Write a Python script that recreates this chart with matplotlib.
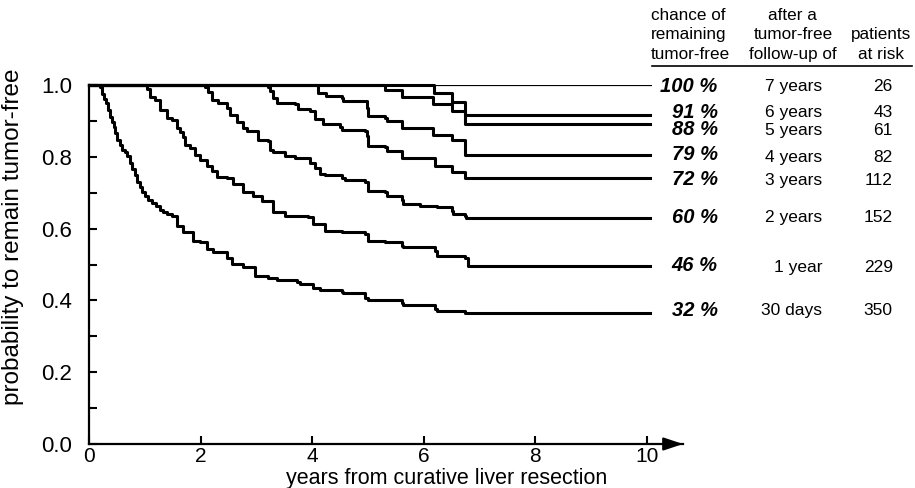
import matplotlib.pyplot as plt
import numpy as np

plt.rcParams['font.family'] = ['Liberation Sans', 'DejaVu Sans']

t_end = 10.05

# drop times (years) and survival after each drop
t_30d = [0.20, 0.23, 0.27, 0.30, 0.34, 0.38, 0.41, 0.44, 0.47, 0.51, 0.56, 0.60, 0.65, 0.69,
         0.73, 0.77, 0.82, 0.86, 0.91, 0.95, 1.00, 1.06, 1.13, 1.20, 1.27, 1.33, 1.40, 1.49,
         1.58, 1.68, 1.86, 1.99, 2.11, 2.22, 2.47, 2.56, 2.76, 2.97, 3.21, 3.37, 3.73, 3.78,
         4.01, 4.14, 4.53, 4.55, 4.95, 5.00, 5.61, 5.63, 6.20, 6.24, 6.74, 6.79]
s_30d = [0.994, 0.975, 0.962, 0.950, 0.930, 0.911, 0.897, 0.884, 0.866, 0.848, 0.834, 0.820,
         0.812, 0.801, 0.784, 0.765, 0.748, 0.729, 0.716, 0.701, 0.690, 0.681, 0.672, 0.662,
         0.652, 0.645, 0.640, 0.634, 0.607, 0.590, 0.565, 0.562, 0.543, 0.535, 0.518, 0.501,
         0.493, 0.468, 0.463, 0.457, 0.452, 0.446, 0.435, 0.429, 0.424, 0.421, 0.407, 0.402,
         0.393, 0.388, 0.377, 0.371, 0.366, 0.366]

t_1y = [1.04, 1.09, 1.18, 1.27, 1.40, 1.49, 1.58, 1.63, 1.68, 1.72, 1.81, 1.90, 1.99, 2.11,
        2.20, 2.29, 2.47, 2.58, 2.76, 2.94, 3.10, 3.30, 3.51, 3.92, 4.01, 4.23, 4.53, 4.95,
        5.00, 5.30, 5.61, 5.63, 6.20, 6.24, 6.74, 6.79]
s_1y = [0.990, 0.967, 0.958, 0.931, 0.909, 0.903, 0.881, 0.870, 0.855, 0.834, 0.825, 0.806,
        0.792, 0.773, 0.760, 0.745, 0.742, 0.723, 0.701, 0.690, 0.676, 0.645, 0.634, 0.632,
        0.612, 0.593, 0.590, 0.584, 0.565, 0.562, 0.551, 0.548, 0.537, 0.524, 0.518, 0.496]

t_2y = [2.08, 2.13, 2.20, 2.31, 2.47, 2.53, 2.65, 2.76, 2.83, 3.03, 3.21, 3.24, 3.30, 3.51,
        3.69, 3.96, 4.05, 4.14, 4.23, 4.53, 4.59, 4.95, 5.00, 5.30, 5.34, 5.61, 5.63, 5.93,
        6.24, 6.51, 6.52, 6.74, 6.76]
s_2y = [0.994, 0.981, 0.958, 0.950, 0.936, 0.917, 0.898, 0.881, 0.873, 0.848, 0.845, 0.820,
        0.812, 0.803, 0.798, 0.784, 0.770, 0.751, 0.748, 0.742, 0.734, 0.729, 0.704, 0.701,
        0.690, 0.681, 0.668, 0.662, 0.659, 0.648, 0.640, 0.634, 0.629]

t_3y = [3.21, 3.24, 3.30, 3.37, 3.69, 3.75, 3.96, 4.05, 4.19, 4.50, 4.53, 4.95, 4.98, 5.00,
        5.30, 5.34, 5.61, 6.20, 6.51, 6.74]
s_3y = [0.994, 0.983, 0.964, 0.950, 0.947, 0.932, 0.927, 0.904, 0.890, 0.883, 0.876, 0.873,
        0.859, 0.831, 0.826, 0.817, 0.798, 0.773, 0.759, 0.740]

t_4y = [4.11, 4.25, 4.53, 4.55, 4.98, 5.00, 5.30, 5.34, 5.61, 6.16, 6.51, 6.74]
s_4y = [0.978, 0.969, 0.964, 0.956, 0.936, 0.914, 0.909, 0.900, 0.879, 0.861, 0.848, 0.804]

t_5y = [5.30, 5.61, 6.16, 6.51, 6.74]
s_5y = [0.987, 0.966, 0.947, 0.928, 0.890]

t_6y = [6.18, 6.51, 6.74]
s_6y = [0.978, 0.953, 0.917]

curves = [(t_30d, s_30d), (t_1y, s_1y), (t_2y, s_2y), (t_3y, s_3y),
          (t_4y, s_4y), (t_5y, s_5y), (t_6y, s_6y)]

# table at the right
pct_labels = ['100 %', '91 %', '88 %', '79 %', '72 %', '60 %', '46 %', '32 %']
pct_y = [0.997, 0.923, 0.875, 0.806, 0.737, 0.632, 0.496, 0.371]
after_labels = ['7 years', '6 years', '5 years', '4 years', '3 years', '2 years', '1 year', '30 days']
risk_labels = ['26', '43', '61', '82', '112', '152', '229', '350']
row_y = [0.997, 0.923, 0.873, 0.798, 0.734, 0.632, 0.493, 0.371]

fig = plt.figure(figsize=(9.15, 4.88), dpi=100)
ax = fig.add_axes([89/915, 44/488, 594/915, 359/488])

# tumor-free after 7 years: flat line
ax.plot([0, 10.1], [1.0, 1.0], color='black', lw=1.6, solid_capstyle='butt')
for t, s in curves:
    tt = np.r_[0, t, t_end]
    ss = np.r_[1.0, s, s[-1]]
    ax.step(tt, ss, where='post', color='black', lw=2.2, clip_on=False)

ax.set_xlim(0, 10.65)
ax.set_ylim(0, 1.0)
ax.spines['top'].set_visible(False)
ax.spines['right'].set_visible(False)
ax.spines['left'].set_linewidth(1.6)
ax.spines['bottom'].set_linewidth(1.6)
ax.spines['left'].set_bounds(0, 1.0)

ax.annotate('', xy=(10.7, 0), xytext=(10.4, 0), xycoords='data',
            arrowprops=dict(arrowstyle='-|>,head_length=0.9,head_width=0.3',
                            color='black', lw=1.6, mutation_scale=13),
            annotation_clip=False)

ax.set_xticks([0, 2, 4, 6, 8, 10])
ax.set_yticks([0.0, 0.2, 0.4, 0.6, 0.8, 1.0])
ax.set_yticklabels(['0.0', '0.2', '0.4', '0.6', '0.8', '1.0'])
ax.set_yticks(np.arange(0.1, 1.0, 0.2), minor=True)
ax.tick_params(axis='both', which='both', direction='in', length=6, width=1.5,
               labelsize=16)
ax.tick_params(axis='x', labelsize=15, pad=2)
ax.tick_params(axis='y', pad=12)

fig.text(447/915, 4/488, 'years from curative liver resection', fontsize=15.5,
         ha='center', va='baseline')
ax.set_ylabel('probability to remain tumor-free', fontsize=17.5)
ax.yaxis.set_label_coords(-0.11, 0.576)

# header
hdr = 12.3
ax.text(10.07, 1.194, 'chance of', fontsize=hdr, ha='left', va='center', clip_on=False)
ax.text(10.07, 1.141, 'remaining', fontsize=hdr, ha='left', va='center', clip_on=False)
ax.text(10.07, 1.086, 'tumor-free', fontsize=hdr, ha='left', va='center', clip_on=False)
ax.text(12.62, 1.194, 'after a', fontsize=hdr, ha='center', va='center', clip_on=False)
ax.text(12.62, 1.141, 'tumor-free', fontsize=hdr, ha='center', va='center', clip_on=False)
ax.text(12.62, 1.086, 'follow-up of', fontsize=hdr, ha='center', va='center', clip_on=False)
ax.text(14.2, 1.141, 'patients', fontsize=hdr, ha='center', va='center', clip_on=False)
ax.text(14.2, 1.086, 'at risk', fontsize=hdr, ha='center', va='center', clip_on=False)
ax.plot([10.09, 14.75], [1.053, 1.053], color='black', lw=1.2, clip_on=False)

for lab, y in zip(pct_labels, pct_y):
    ax.text(11.27, y, lab, fontsize=14.5, fontweight='bold', fontstyle='italic',
            ha='right', va='center', clip_on=False)
for a, r, y in zip(after_labels, risk_labels, row_y):
    ax.text(13.15, y, a, fontsize=12.5, ha='right', va='center', clip_on=False)
    ax.text(14.41, y, r, fontsize=12.5, ha='right', va='center', clip_on=False)

plt.savefig('out.png', dpi=100)
